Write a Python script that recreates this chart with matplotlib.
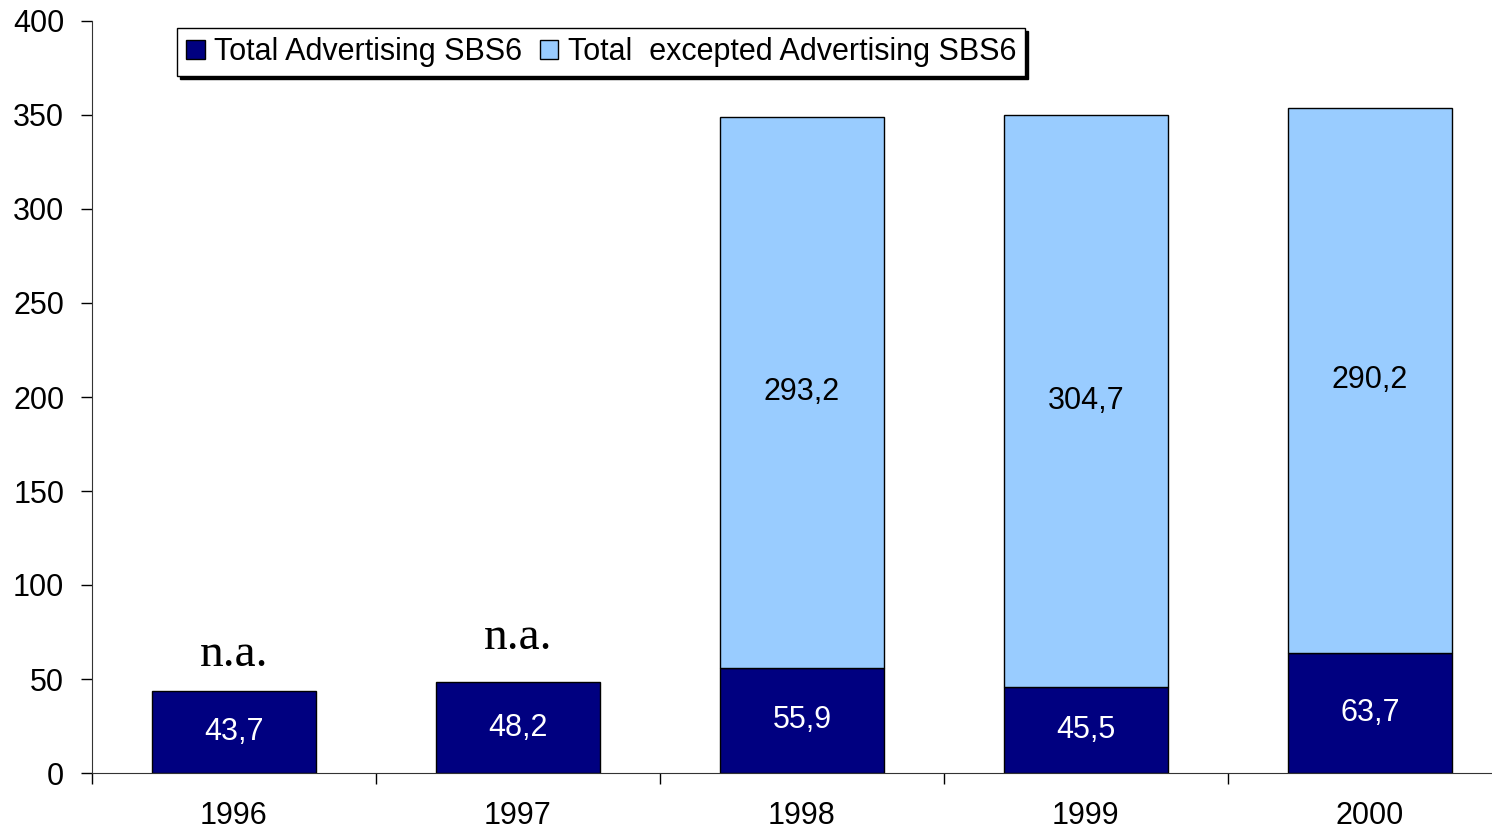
import matplotlib
matplotlib.use("Agg")
import matplotlib.pyplot as plt
import numpy as np

years = ["1996", "1997", "1998", "1999", "2000"]
total_adv = [43.7, 48.2, 55.9, 45.5, 63.7]
excepted_adv = [0, 0, 293.2, 304.7, 290.2]
dark_labels = ["43,7", "48,2", "55,9", "45,5", "63,7"]
light_labels = ["", "", "293,2", "304,7", "290,2"]
na_labels = ["n.a.", "n.a.", "", "", ""]
na_y = [63, 72]
yticks = [0, 50, 100, 150, 200, 250, 300, 350, 400]

plt.rcParams['font.family'] = ['Liberation Sans', 'DejaVu Sans']
fig = plt.figure(figsize=(14.92, 8.30), dpi=100)
ax = fig.add_axes([92/1492, 1-773/830, 1-92/1492, (773-21)/830])

x = np.arange(len(years))
w = 0.58
dark = "#000080"
light = "#99CCFF"
ax.bar(x, total_adv, w, color=dark, edgecolor="black", linewidth=1,
       label="Total Advertising SBS6", zorder=2)
mask = np.array(excepted_adv) > 0
ax.bar(x[mask], np.array(excepted_adv)[mask], w, bottom=np.array(total_adv)[mask],
       color=light, edgecolor="black", linewidth=1,
       label="Total  excepted Advertising SBS6", zorder=2)

fs = 22
for i in range(len(years)):
    ax.text(x[i], total_adv[i] / 2, dark_labels[i], ha="center", va="center",
            color="white", fontsize=fs)
    if light_labels[i]:
        ax.text(x[i], total_adv[i] + excepted_adv[i] / 2, light_labels[i],
                ha="center", va="center", color="black", fontsize=fs)
for i, lab in enumerate(na_labels[:2]):
    ax.text(x[i], na_y[i], lab, ha="center", va="center", fontsize=34,
            family="Liberation Serif")

ax.set_ylim(0, 400)
ax.set_xlim(-0.5, 4.43)
ax.set_yticks(yticks)
ax.set_yticklabels([str(v) for v in yticks], fontsize=fs)
ax.set_xticks(x)
ax.set_xticklabels(years, fontsize=fs)
ax.set_xticks(np.arange(-0.5, 4.5, 1), minor=True)
ax.tick_params(axis="x", which="major", length=0, pad=20)
ax.tick_params(axis="x", which="minor", length=8, direction="out", width=1)
ax.tick_params(axis="y", length=8, direction="out", width=1, pad=12)
for s in ["top", "right"]:
    ax.spines[s].set_visible(False)
ax.spines["left"].set_color("#333333")
ax.spines["bottom"].set_color("#333333")

leg = ax.legend(loc="upper left", bbox_to_anchor=((177-92)/1400, 1 - 7/752),
                ncol=2, fontsize=fs, frameon=True, fancybox=False, edgecolor="black",
                handlelength=0.6, handleheight=0.6, handletextpad=0.3, columnspacing=0.6,
                borderpad=0.3, borderaxespad=0,
                shadow={"color": "black", "alpha": 1})
leg.get_frame().set_linewidth(1)
leg.set_zorder(5)

fig.savefig("out.png", dpi=100)
